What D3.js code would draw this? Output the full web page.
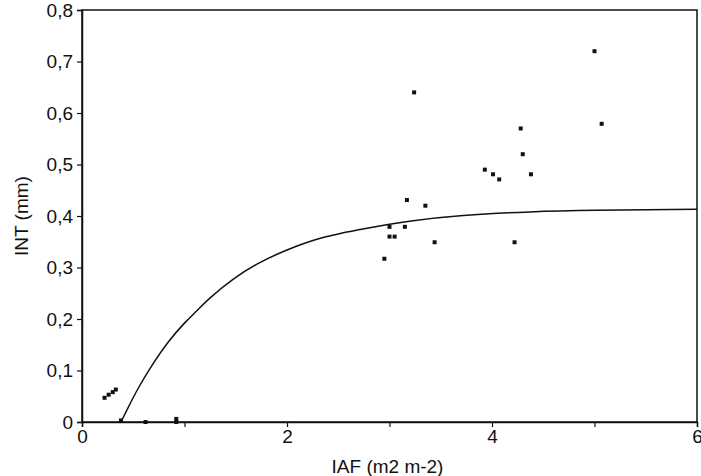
<!DOCTYPE html>
<html>
<head>
<meta charset="utf-8">
<script src="https://cdn.jsdelivr.net/npm/d3@7"></script>
<style>
body { margin: 0; background: #fff; }
text { font-family: "Liberation Sans", Arial, sans-serif; fill: #111; }
</style>
</head>
<body>
<svg id="chart" width="701" height="476"></svg>
<script>
// measured points (IAF, INT)
var obsX = [0.22, 0.26, 0.30, 0.33, 0.38, 0.62, 0.92, 0.92,
            2.95, 3.00, 3.00, 3.05, 3.15, 3.17, 3.24, 3.35, 3.44,
            3.93, 4.01, 4.07, 4.22, 4.28, 4.30, 4.38, 5.00, 5.07];
var obsY = [0.047, 0.053, 0.058, 0.063, 0.003, 0.0, 0.0, 0.006,
            0.317, 0.379, 0.36, 0.36, 0.379, 0.431, 0.64, 0.42, 0.349,
            0.49, 0.481, 0.471, 0.349, 0.57, 0.52, 0.481, 0.72, 0.579];

// fitted curve
var fitX = [0.38, 0.45, 0.55, 0.68, 0.84, 1.00, 1.12, 1.25, 1.48, 1.74, 2.00,
            2.26, 2.52, 2.78, 3.00, 3.23, 3.72, 4.37, 5.02, 6.0];
var fitY = [0.0, 0.028, 0.066, 0.109, 0.155, 0.192, 0.216, 0.241, 0.278, 0.310, 0.334,
            0.353, 0.366, 0.376, 0.384, 0.391, 0.401, 0.408, 0.411, 0.413];

var xTicks = [0, 1, 2, 3, 4, 5, 6];
var xLabels = ["0", "", "2", "", "4", "", "6"];
var yTicks = [0, 0.1, 0.2, 0.3, 0.4, 0.5, 0.6, 0.7, 0.8];
var yLabels = ["0", "0,1", "0,2", "0,3", "0,4", "0,5", "0,6", "0,7", "0,8"];

(function () {
var svg = d3.select("#chart");
var mLeft = 82, mRight = 697, mTop = 10, mBottom = 422;

var x = d3.scaleLinear().domain([0, 6]).range([mLeft, mRight]);
var y = d3.scaleLinear().domain([0, 0.8]).range([mBottom, mTop]);

// frame
svg.append("rect")
    .attr("x", mLeft).attr("y", mTop)
    .attr("width", mRight - mLeft).attr("height", mBottom - mTop)
    .attr("fill", "none").attr("stroke", "#111").attr("stroke-width", 1.5);

var xAxis = d3.axisBottom(x).tickValues(xTicks).tickSize(5).tickPadding(3)
    .tickFormat(function(d, i) { return xLabels[i]; });
var gx = svg.append("g").attr("transform", "translate(0," + mBottom + ")").call(xAxis);

var yAxis = d3.axisLeft(y).tickValues(yTicks).tickSize(5).tickPadding(4)
    .tickFormat(function(d, i) { return yLabels[i]; });
var gy = svg.append("g").attr("transform", "translate(" + mLeft + ",0)").call(yAxis);

[gx, gy].forEach(function(g) {
    g.select(".domain").attr("stroke", "#111").attr("stroke-width", 1.5);
    g.selectAll(".tick line").attr("stroke", "#111").attr("stroke-width", 1.2);
    g.selectAll(".tick text").style("font-size", "19px").attr("fill", "#111");
});

// fitted curve
var line = d3.line()
    .x(function(d, i) { return x(fitX[i]); })
    .y(function(d, i) { return y(fitY[i]); })
    .curve(d3.curveNatural);
svg.append("path")
    .datum(fitX)
    .attr("d", line)
    .attr("fill", "none")
    .attr("stroke", "#111")
    .attr("stroke-width", 1.5);

// points
svg.append("g").selectAll("rect")
    .data(obsX)
    .enter().append("rect")
    .attr("x", function(d) { return x(d) - 2; })
    .attr("y", function(d, i) { return y(obsY[i]) - 2; })
    .attr("width", 4).attr("height", 4)
    .attr("fill", "#111");

// axis titles
svg.append("text")
    .attr("x", (mLeft + mRight) / 2 - 2).attr("y", 473)
    .attr("text-anchor", "middle")
    .style("font-size", "19px")
    .text("IAF (m2 m-2)");

svg.append("text")
    .attr("transform", "translate(28," + (mTop + mBottom) / 2 + ") rotate(-90)")
    .attr("text-anchor", "middle")
    .style("font-size", "19px")
    .text("INT (mm)");
})();
</script>
</body>
</html>
